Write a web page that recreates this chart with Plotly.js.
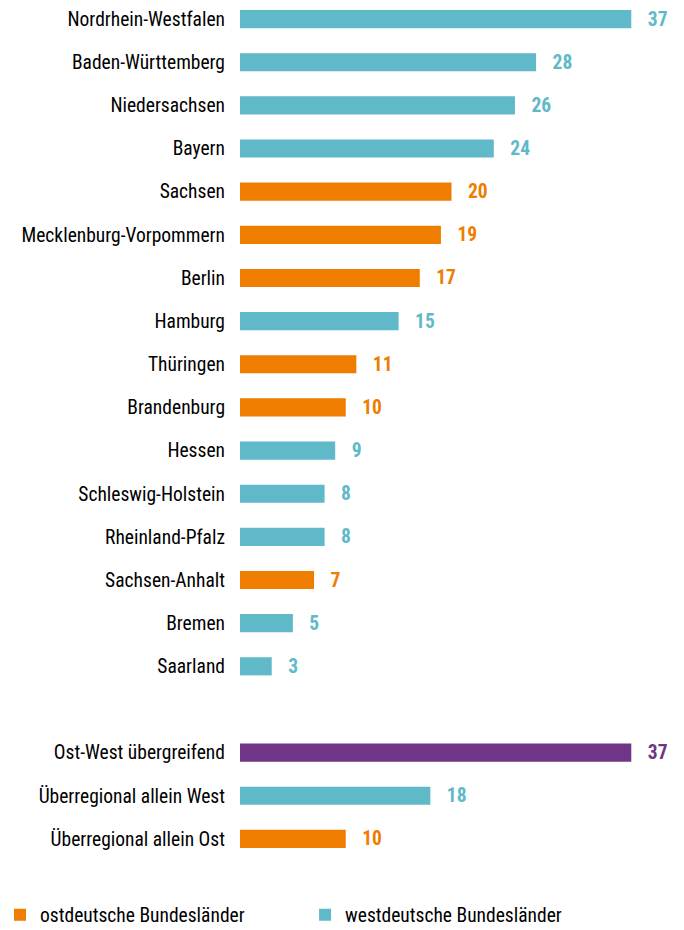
<!DOCTYPE html>
<html>
<head>
<meta charset="utf-8">
<script src="https://cdn.plot.ly/plotly-3.0.1.min.js"></script>
<style>html,body{margin:0;padding:0;background:#fff;}#chart{width:684px;height:930px;}</style>
</head>
<body>
<div id="chart"></div>
<script>
const categories = [
  "Nordrhein-Westfalen","Baden-Württemberg","Niedersachsen","Bayern","Sachsen",
  "Mecklenburg-Vorpommern","Berlin","Hamburg","Thüringen","Brandenburg","Hessen",
  "Schleswig-Holstein","Rheinland-Pfalz","Sachsen-Anhalt","Bremen","Saarland",
  "Ost-West übergreifend","Überregional allein West","Überregional allein Ost"
];
const values = [37,28,26,24,20,19,17,15,11,10,9,8,8,7,5,3,37,18,10];
const groups = ["west","west","west","west","ost","ost","ost","west","ost","ost","west",
  "west","west","ost","west","west","beide","west","ost"];
const spacerAfter = "Saarland";
const legendNames = {ost:"ostdeutsche Bundesländer", west:"westdeutsche Bundesländer", beide:"Ost-West übergreifend"};
const colors = {ost:"#EE7D00", west:"#5FB9C9", beide:"#6F3587"};

const FONT = '"Roboto Condensed","Liberation Sans Narrow","Arial Narrow",Arial,sans-serif';
const SPACER = " ";

const order = [];
categories.forEach(c => { order.push(c); if (c === spacerAfter) order.push(SPACER); });

function traceFor(g, legendId) {
  const idx = groups.map((x,i)=>x===g?i:-1).filter(i=>i>=0);
  const t = {
    type:"bar", orientation:"h", name:legendNames[g], showlegend:!!legendId,
    y: idx.map(i=>categories[i]), x: idx.map(i=>values[i]),
    marker:{color:colors[g]}, width:0.42,
    texttemplate:"\u00a0\u00a0\u00a0%{x}", textposition:"outside", cliponaxis:false,
    constraintext:"none",
    textfont:{family:FONT, size:19.5, color:colors[g], weight:"bold"},
    hoverinfo:"skip"
  };
  if (legendId) t.legend = legendId;
  return t;
}
const spacerTrace = {type:"bar", orientation:"h", y:[SPACER], x:[null], showlegend:false, hoverinfo:"skip", marker:{color:"rgba(0,0,0,0)"}};

const data = [traceFor("ost", "legend"), traceFor("west", "legend2"), traceFor("beide", null), spacerTrace];

const legendBase = {orientation:"v", xref:"container", yref:"container", y:0.016, xanchor:"left", yanchor:"middle",
  font:{family:FONT, size:19.5, color:"#000"}, itemwidth:30, bgcolor:"rgba(0,0,0,0)"};

const layout = {
  width:684, height:930,
  margin:{l:240, r:21, t:0, b:67, autoexpand:false},
  paper_bgcolor:"#fff", plot_bgcolor:"#fff",
  barmode:"overlay",
  font:{family:FONT, size:19.5, color:"#000"},
  xaxis:{range:[0,40], visible:false, showgrid:false, zeroline:false},
  yaxis:{type:"category", categoryorder:"array", categoryarray:order,
    range:[order.length-0.5+0.058, -0.5+0.058],
    showgrid:false, zeroline:false, showline:false, ticks:"", ticklabelstandoff:14,
    tickfont:{family:FONT, size:19.5, color:"#000"}},
  legend: Object.assign({}, legendBase, {x:0}),
  legend2: Object.assign({}, legendBase, {x:0.446}),
  showlegend:true
};

Plotly.newPlot("chart", data, layout, {displayModeBar:false, staticPlot:true});
</script>
</body>
</html>
